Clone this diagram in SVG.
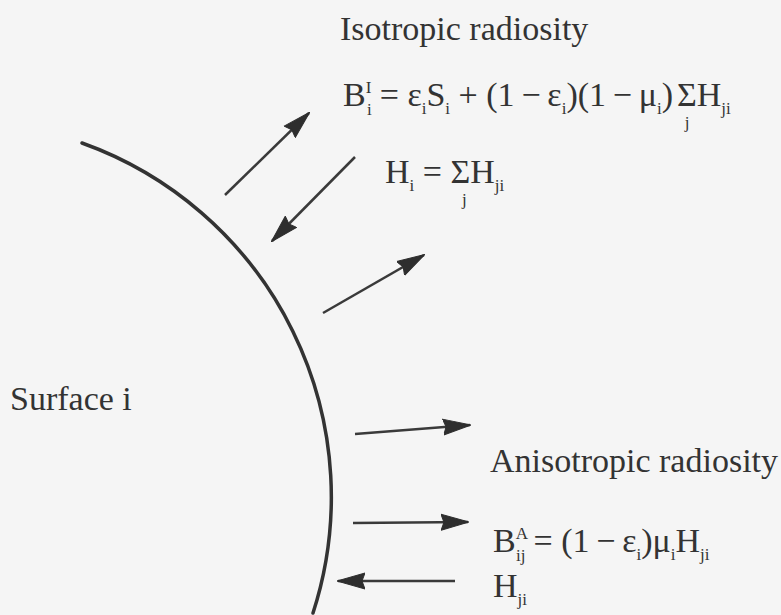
<svg xmlns="http://www.w3.org/2000/svg" width="781" height="615" viewBox="0 0 781 615">
<style>
.t{font-family:"Liberation Serif","Times New Roman",serif;font-size:34px;fill:#333}
.s{font-size:17px}
.c{fill:none;stroke:#3a3a3a;stroke-width:2.5}
.surf{fill:none;stroke:#333;stroke-width:3.5;stroke-linecap:round}
</style>
<defs>
<marker id="ah" markerUnits="userSpaceOnUse" viewBox="0 0 28 18" markerWidth="28" markerHeight="18" refX="27" refY="9" orient="auto">
<path d="M0,1 L28,9 L0,17 L3,9 Z" fill="#2e2e2e" stroke="#2e2e2e" stroke-width="1" stroke-linejoin="round"/>
</marker>
</defs>
<rect width="781" height="615" fill="#f5f5f5"/>
<g id="surface">
<path class="surf" d="M82,143 A376,376 0 0 1 313,613"/>
<text class="t" x="10" y="410">Surface i</text>
</g>
<g id="connectors">
<line class="c" x1="225" y1="195" x2="309" y2="113" marker-end="url(#ah)"/>
<line class="c" x1="355" y1="157" x2="272" y2="241" marker-end="url(#ah)"/>
<line class="c" x1="323" y1="313" x2="424" y2="255" marker-end="url(#ah)"/>
<line class="c" x1="355" y1="434" x2="470" y2="425" marker-end="url(#ah)"/>
<line class="c" x1="353" y1="523" x2="468" y2="522" marker-end="url(#ah)"/>
<line class="c" x1="455" y1="581" x2="338" y2="581" marker-end="url(#ah)"/>
</g>
<g id="isotropic">
<text class="t" x="340" y="40">Isotropic radiosity</text>
<text class="t" x="343" y="106">B<tspan class="s" dy="-13">I</tspan><tspan class="s" x="367" dy="22">i</tspan><tspan dy="-9" dx="8">= ε</tspan><tspan class="s" dy="8">i</tspan><tspan dy="-8">S</tspan><tspan class="s" dy="8">i</tspan><tspan dy="-8"> + (1&#8201;−&#8201;ε</tspan><tspan class="s" dy="8">i</tspan><tspan dy="-8">)(1&#8201;−&#8201;μ</tspan><tspan class="s" dy="8">i</tspan><tspan dy="-8">)</tspan><tspan x="677">Σ</tspan><tspan>H</tspan><tspan class="s" dy="8">ji</tspan></text>
<text class="t s" x="687" y="128" text-anchor="middle">j</text>
<text class="t" x="385" y="183">H<tspan class="s" dy="8">i</tspan><tspan dy="-8"> = </tspan><tspan>Σ</tspan><tspan>H</tspan><tspan class="s" dy="8">ji</tspan></text>
<text class="t s" x="462" y="205">j</text>
</g>
<g id="anisotropic">
<text class="t" x="490" y="472">Anisotropic radiosity</text>
<text class="t" x="493" y="552">B<tspan class="s" dy="-13">A</tspan><tspan class="s" x="516" dy="22">ij</tspan><tspan dy="-9" dx="8">= (1&#8201;−&#8201;ε</tspan><tspan class="s" dy="8">i</tspan><tspan dy="-8">)μ</tspan><tspan class="s" dy="8">i</tspan><tspan dy="-8">H</tspan><tspan class="s" dy="8">ji</tspan></text>
<text class="t" x="493" y="597">H<tspan class="s" dy="8">ji</tspan></text>
</g>
</svg>
